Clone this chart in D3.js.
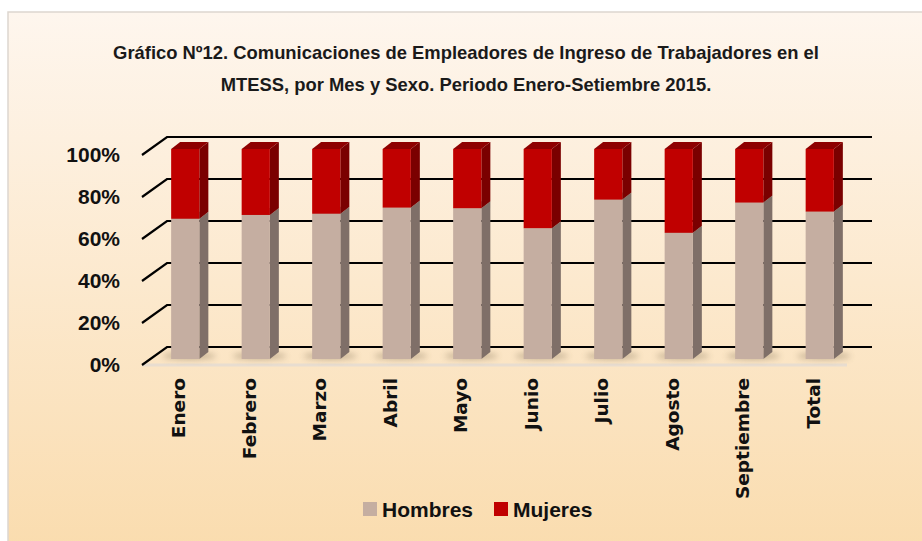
<!DOCTYPE html>
<html>
<head>
<meta charset="utf-8">
<script src="https://cdn.jsdelivr.net/npm/d3@7"></script>
<style>
  body { margin: 0; background: #fff; }
  svg { display: block; font-family: "Liberation Sans Narrow", "Open Sans", sans-serif; }
</style>
</head>
<body>
<div id="chart"></div>
<script>
// data (% of each month)
var meses = ["Enero", "Febrero", "Marzo", "Abril", "Mayo", "Junio", "Julio", "Agosto", "Septiembre", "Total"];
var hombres = [66.8, 68.6, 69.2, 72.1, 71.8, 62.3, 75.9, 60.1, 74.5, 70.2];
var mujeres = [33.2, 31.4, 30.8, 27.9, 28.2, 37.7, 24.1, 39.9, 25.5, 29.8];
var yTicks = [0, 20, 40, 60, 80, 100];
var series = ["Hombres", "Mujeres"];

var w = 922, h = 541;

var svg = d3.select("#chart").append("svg")
    .attr("width", w)
    .attr("height", h);

var defs = svg.append("defs");
var grad = defs.append("linearGradient")
    .attr("id", "bg")
    .attr("x1", 0).attr("y1", 0).attr("x2", 0).attr("y2", 1);
grad.append("stop").attr("offset", "0%").attr("stop-color", "#fef6ee");
grad.append("stop").attr("offset", "100%").attr("stop-color", "#fadcae");

var blur = defs.append("filter").attr("id", "shadow")
    .attr("x", "-50%").attr("y", "-200%").attr("width", "200%").attr("height", "500%");
blur.append("feGaussianBlur").attr("stdDeviation", 3);

// chart frame
svg.append("rect")
    .attr("x", 8).attr("y", 12)
    .attr("width", w + 10).attr("height", h)
    .attr("fill", "url(#bg)")
    .attr("stroke", "#ddd6cf")
    .attr("stroke-width", 1.5);

// title
var title = svg.append("text")
    .attr("text-anchor", "middle")
    .style("font-family", "'Liberation Sans Narrow', sans-serif")
    .style("font-weight", "bold")
    .style("font-size", "18.4px")
    .style("fill", "#1a1a1a");
title.append("tspan").attr("x", 466).attr("y", 59)
    .text("Gráfico Nº12. Comunicaciones de Empleadores de Ingreso de Trabajadores en el");
title.append("tspan").attr("x", 466).attr("y", 91)
    .text("MTESS, por Mes y Sexo. Periodo Enero-Setiembre 2015.");

// scales on the back wall
var xScale = d3.scaleBand()
    .domain(meses)
    .range([167, 872])
    .paddingInner(0.6)
    .paddingOuter(0.3);

var yScale = d3.scaleLinear()
    .domain([0, 100])
    .range([347, 137]);

// depth offsets
var wallDx = -25, wallDy = 18;     // front edge of the floor
var barDx = -17, barDy = 12;       // front face of the bars
var barDepthX = 9, barDepthY = -7; // bar thickness

// floor front edge
svg.append("line")
    .attr("x1", xScale.range()[0] + wallDx)
    .attr("x2", xScale.range()[1] + wallDx)
    .attr("y1", yScale(0) + wallDy)
    .attr("y2", yScale(0) + wallDy)
    .attr("stroke", "#e8ddd0")
    .attr("stroke-width", 3);

// gridlines: diagonal on the side, straight on the back wall
var grid = svg.append("g").attr("class", "grid");
grid.selectAll("path")
    .data(yTicks)
    .enter().append("path")
    .attr("d", function (d) {
        var y = yScale(d);
        var x0 = xScale.range()[0];
        return "M" + (x0 + wallDx) + "," + (y + wallDy) + "L" + x0 + "," + y + "L" + xScale.range()[1] + "," + y;
    })
    .attr("fill", "none")
    .attr("stroke", "#000")
    .attr("stroke-width", 2.2);

// y labels
svg.append("g")
    .selectAll("text")
    .data(yTicks)
    .enter().append("text")
    .attr("x", 120)
    .attr("y", function (d) { return yScale(d) + wallDy + 7; })
    .attr("text-anchor", "end")
    .style("font-family", "'Liberation Sans Narrow', sans-serif")
    .style("font-weight", "bold")
    .style("font-size", "21px")
    .style("fill", "#111")
    .text(function (d) { return d + "%"; });

// stacked data
var rows = meses.map(function (m, i) {
    return { mes: m, Hombres: hombres[i], Mujeres: mujeres[i] };
});
var stack = d3.stack().keys(series)(rows);

var colors = {
    Hombres: { front: "#c5aea1", side: "#7f6f68", top: "#9a877c" },
    Mujeres: { front: "#c00000", side: "#7a0000", top: "#8e0000" }
};

// shadows on the floor
svg.append("g")
    .selectAll("ellipse")
    .data(rows)
    .enter().append("ellipse")
    .attr("cx", function (d) { return xScale(d.mes) + barDx + xScale.bandwidth() / 2 + 4; })
    .attr("cy", yScale(0) + barDy - 3)
    .attr("rx", xScale.bandwidth() * 0.95)
    .attr("ry", 3)
    .attr("fill", "#6b5a40")
    .attr("opacity", 0.45)
    .attr("filter", "url(#shadow)");

var bars = svg.append("g").attr("class", "bars");
var bw = xScale.bandwidth();

stack.forEach(function (layer) {
    var c = colors[layer.key];
    var g = bars.append("g").attr("class", layer.key);
    layer.forEach(function (d) {
        var x = xScale(d.data.mes) + barDx;
        var yTop = yScale(d[1]) + barDy;
        var yBot = yScale(d[0]) + barDy;
        // side face
        g.append("path")
            .datum(d)
            .attr("d", "M" + (x + bw) + "," + yBot +
                "L" + (x + bw + barDepthX) + "," + (yBot + barDepthY) +
                "L" + (x + bw + barDepthX) + "," + (yTop + barDepthY) +
                "L" + (x + bw) + "," + yTop + "Z")
            .attr("fill", c.side);
        // top face
        g.append("path")
            .datum(d)
            .attr("d", "M" + x + "," + yTop +
                "L" + (x + barDepthX) + "," + (yTop + barDepthY) +
                "L" + (x + bw + barDepthX) + "," + (yTop + barDepthY) +
                "L" + (x + bw) + "," + yTop + "Z")
            .attr("fill", c.top);
        // front face
        g.append("rect")
            .datum(d)
            .attr("x", x)
            .attr("y", yTop)
            .attr("width", bw)
            .attr("height", yBot - yTop)
            .attr("fill", c.front);
    });
});

// category labels, rotated
svg.append("g")
    .selectAll("text")
    .data(meses)
    .enter().append("text")
    .attr("transform", function (d) {
        var x = xScale(d) + bw / 2 + wallDx + 8;
        return "translate(" + x + ",378) rotate(-90)";
    })
    .attr("text-anchor", "end")
    .style("font-family", "'DejaVu Sans', sans-serif")
    .style("font-weight", "bold")
    .style("font-size", "18.5px")
    .style("fill", "#111")
    .text(function (d) { return d; });

// legend
var legend = svg.append("g").attr("class", "legend");
var legX = [363, 494];
series.forEach(function (s, i) {
    legend.append("rect")
        .attr("x", legX[i]).attr("y", 502)
        .attr("width", 14).attr("height", 14)
        .attr("fill", colors[s].front);
    legend.append("text")
        .attr("x", legX[i] + 19).attr("y", 517)
        .style("font-family", "'Liberation Sans Narrow', sans-serif")
        .style("font-weight", "bold")
        .style("font-size", "21px")
        .style("fill", "#111")
        .text(s);
});
</script>
</body>
</html>
